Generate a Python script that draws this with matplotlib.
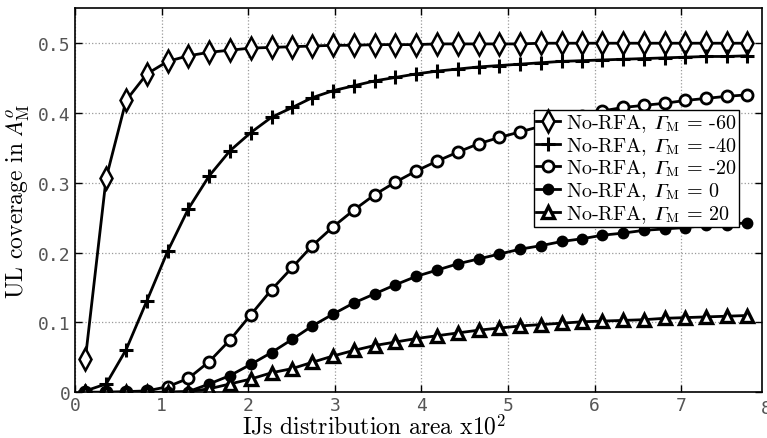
import matplotlib
matplotlib.use("Agg")
import matplotlib.pyplot as plt
from matplotlib.ticker import FixedLocator, FixedFormatter

plt.rcParams['mathtext.fontset'] = 'custom'
plt.rcParams['mathtext.rm'] = 'cmr10'
plt.rcParams['mathtext.it'] = 'STIXGeneral:italic'
plt.rcParams['mathtext.sf'] = 'STIXGeneral'
plt.rcParams['mathtext.bf'] = 'cmb10'
plt.rcParams['font.family'] = ['cmr10', 'DejaVu Serif']
plt.rcParams['axes.unicode_minus'] = False

x = [0.12, 0.36, 0.59, 0.83, 1.07, 1.31, 1.55, 1.79, 2.03, 2.27, 2.51,
     2.74, 2.98, 3.22, 3.46, 3.70, 3.94, 4.18, 4.42, 4.66, 4.90, 5.14,
     5.38, 5.62, 5.86, 6.09, 6.33, 6.57, 6.81, 7.05, 7.29, 7.53, 7.76]

y_m60 = [0.048, 0.307, 0.418, 0.456, 0.474, 0.482, 0.487, 0.490, 0.493, 0.494, 0.495,
         0.496, 0.497, 0.497, 0.498, 0.498, 0.498, 0.499, 0.499, 0.499, 0.499, 0.499,
         0.500, 0.500, 0.500, 0.500, 0.500, 0.500, 0.500, 0.500, 0.500, 0.500, 0.500]
y_m40 = [0.002, 0.012, 0.061, 0.131, 0.202, 0.263, 0.310, 0.346, 0.372, 0.394, 0.408,
         0.422, 0.432, 0.439, 0.446, 0.451, 0.456, 0.460, 0.463, 0.466, 0.468, 0.470,
         0.472, 0.474, 0.475, 0.476, 0.477, 0.478, 0.479, 0.480, 0.481, 0.481, 0.482]
y_m20 = [0.000, 0.000, 0.001, 0.002, 0.008, 0.020, 0.044, 0.075, 0.111, 0.147, 0.179,
         0.210, 0.237, 0.261, 0.283, 0.301, 0.317, 0.331, 0.344, 0.356, 0.365, 0.373,
         0.381, 0.389, 0.396, 0.403, 0.408, 0.411, 0.414, 0.418, 0.421, 0.424, 0.426]
y_0 = [0.000, 0.000, 0.000, 0.000, 0.000, 0.001, 0.012, 0.024, 0.040, 0.057, 0.076,
       0.095, 0.112, 0.128, 0.141, 0.154, 0.166, 0.175, 0.184, 0.191, 0.198, 0.205,
       0.210, 0.216, 0.220, 0.225, 0.228, 0.232, 0.234, 0.236, 0.239, 0.240, 0.243]
y_20 = [0.000, 0.000, 0.000, 0.000, 0.000, 0.001, 0.005, 0.012, 0.019, 0.028, 0.034,
        0.043, 0.052, 0.060, 0.067, 0.072, 0.077, 0.081, 0.085, 0.089, 0.092, 0.095,
        0.097, 0.099, 0.101, 0.102, 0.103, 0.104, 0.106, 0.107, 0.108, 0.109, 0.110]

G = '\U0001D6E4'
labels = [r'No-RFA, $\mathsf{' + G + r'}_{\mathrm{M}}$ = -60',
          r'No-RFA, $\mathsf{' + G + r'}_{\mathrm{M}}$ = -40',
          r'No-RFA, $\mathsf{' + G + r'}_{\mathrm{M}}$ = -20',
          r'No-RFA, $\mathsf{' + G + r'}_{\mathrm{M}}$ = 0',
          r'No-RFA, $\mathsf{' + G + r'}_{\mathrm{M}}$ = 20']

xticks = [0, 1, 2, 3, 4, 5, 6, 7]
xticklabels = ['0', '1', '2', '3', '4', '5', '6', '7']
yticks = [0, 0.1, 0.2, 0.3, 0.4, 0.5]
yticklabels = ['0', '0.1', '0.2', '0.3', '0.4', '0.5']

fig = plt.figure(figsize=(7.67, 4.39), dpi=100)
ax = fig.add_axes([75/767, 1-393.3/439, (761.7-75)/767, (393.3-9.3)/439])

series = [y_m60, y_m40, y_m20, y_0, y_20]
styles = [dict(marker='d', ms=11, mfc='white', mew=1.8),
          dict(marker='+', ms=10, mfc='black', mew=2.2),
          dict(marker='o', ms=8, mfc='white', mew=2.0),
          dict(marker='o', ms=7, mfc='black', mew=1.5),
          dict(marker='^', ms=9, mfc='white', mew=2.4)]
for ys, st, lab in zip(series, styles, labels):
    ax.plot(x, ys, color='black', lw=2.0, mec='black', label=lab, **st)

ax.set_xlim(0, 7.93)
ax.set_ylim(0, 0.55)
ax.xaxis.set_major_locator(FixedLocator(xticks))
ax.xaxis.set_major_formatter(FixedFormatter(xticklabels))
ax.yaxis.set_major_locator(FixedLocator(yticks))
ax.yaxis.set_major_formatter(FixedFormatter(yticklabels))
ax.tick_params(direction='in', top=True, right=True, length=5, width=1,
               labelsize=13, labelcolor='#555555', pad=3)
for lab in ax.get_xticklabels() + ax.get_yticklabels():
    lab.set_fontfamily('DejaVu Sans Mono')
ax.text(7.985, -0.01, '8', transform=ax.transData, ha='center', va='top',
        fontsize=13, color='#555555', family='DejaVu Sans Mono', clip_on=False)
ax.grid(True, linestyle=':', color='#999999', linewidth=0.9)
for s in ax.spines.values():
    s.set_linewidth(1.2)

ax.set_xlabel(r'IJs distribution area x10$^2$', fontsize=17)
ax.xaxis.set_label_coords(0.435, -0.056)
ax.set_ylabel(r'UL coverage in $A_{\mathrm{M}}^{o}$', fontsize=17)
ax.yaxis.set_label_coords(-0.062, 0.5)

leg = ax.legend(loc='upper left', bbox_to_anchor=((534-75)/686.7, 1-(111-9.3)/384),
                fontsize=14.5, handlelength=1.2, handletextpad=0.3, labelspacing=0.05,
                borderpad=0.1, borderaxespad=0, fancybox=False, framealpha=1,
                edgecolor='black')
leg.get_frame().set_linewidth(1.0)

fig.savefig('out.png', dpi=100)
